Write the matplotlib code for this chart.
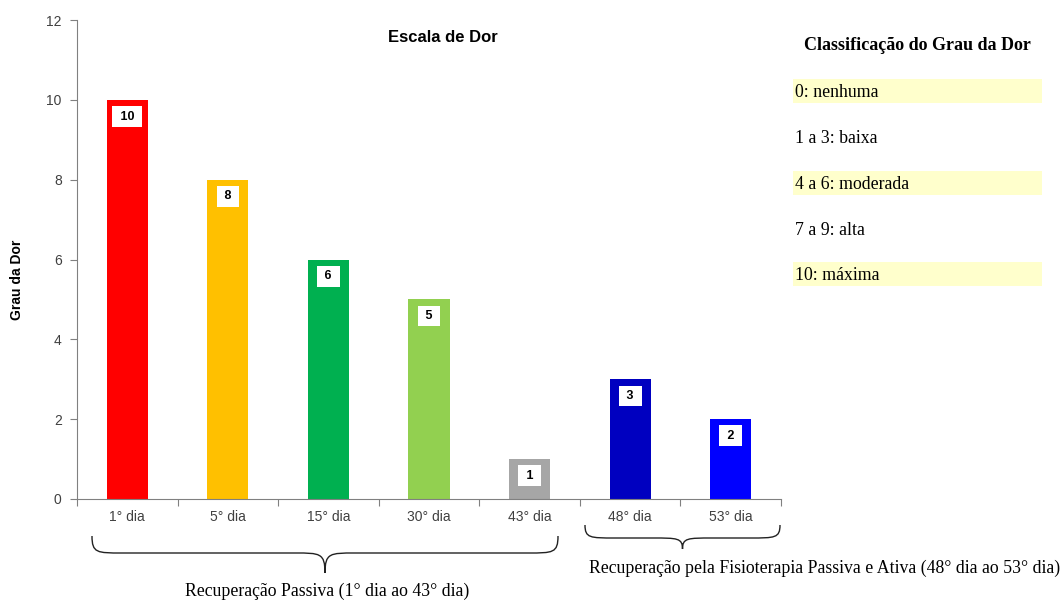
import matplotlib
matplotlib.use("Agg")
import matplotlib.pyplot as plt
from matplotlib.path import Path
from matplotlib.patches import PathPatch, Rectangle

categories = ["1° dia", "5° dia", "15° dia", "30° dia", "43° dia", "48° dia", "53° dia"]
values = [10, 8, 6, 5, 1, 3, 2]
colors = ["#FF0000", "#FFC000", "#00B050", "#92D050", "#A6A6A6", "#0000C0", "#0000FF"]
title = "Escala de Dor"
ylabel = "Grau da Dor"
yticks = [0, 2, 4, 6, 8, 10, 12]
group_labels = ["Recuperação Passiva (1° dia ao 43° dia)",
                "Recuperação pela Fisioterapia Passiva e Ativa (48° dia ao 53° dia)"]
legend_title = "Classificação do Grau da Dor"
legend_items = ["0: nenhuma", "1 a 3: baixa", "4 a 6: moderada", "7 a 9: alta", "10: máxima"]
legend_shaded = [True, False, True, False, True]

W, H = 1062, 600
fig = plt.figure(figsize=(W / 100, H / 100), dpi=100)
ax = fig.add_axes([77 / W, 1 - 499 / H, (781 - 77) / W, (499 - 20) / H])

x = list(range(len(categories)))
ax.bar(x, values, width=0.41, color=colors, zorder=2)
ax.set_xlim(-0.5, len(categories) - 0.5)
ax.set_ylim(0, 12)
ax.set_yticks(yticks)
ax.set_yticklabels([str(t) for t in yticks], fontsize=10, family="Liberation Sans", color="#404040")
ax.set_xticks([i - 0.5 for i in range(len(categories) + 1)], minor=False)
ax.set_xticklabels([""] * (len(categories) + 1))
ax.set_xticks(x, minor=True)
ax.set_xticklabels(categories, minor=True, fontsize=10, family="Liberation Sans", color="#404040")
ax.tick_params(axis="x", which="minor", length=0, pad=8)
ax.tick_params(axis="x", which="major", length=5, color="#808080")
ax.tick_params(axis="y", length=5, color="#808080", pad=6)
for s in ["top", "right"]:
    ax.spines[s].set_visible(False)
for s in ["left", "bottom"]:
    ax.spines[s].set_color("#808080")

for xi, v in zip(x, values):
    ax.annotate(f" {v} ", (xi, v), xytext=(0, -12), textcoords="offset points",
                ha="center", va="center", fontsize=9, fontweight="bold",
                family="Liberation Sans", color="black",
                bbox=dict(boxstyle="square,pad=0.35", fc="white", ec="none"))

fig.text(443 / W, 1 - 38 / H, title, ha="center", va="center", fontsize=12,
         fontweight="bold", family="Liberation Sans")
fig.text(17 / W, 1 - 280 / H, ylabel, ha="center", va="center", rotation=90,
         fontsize=10, fontweight="bold", family="Liberation Sans")


def brace(x0, x1, ytop, ymid, ybot):
    xc = (x0 + x1) / 2
    r = min(30, (xc - x0) / 3)

    def P(px, py):
        return (px / W, 1 - py / H)

    verts = [P(x0, ytop),
             P(x0, ymid), P(x0 + 5, ymid), P(x0 + r, ymid),
             P(xc - r, ymid),
             P(xc - 5, ymid), P(xc, ymid), P(xc, ybot),
             P(xc, ymid), P(xc + 5, ymid), P(xc + r, ymid),
             P(x1 - r, ymid),
             P(x1 - 5, ymid), P(x1, ymid), P(x1, ytop)]
    codes = [Path.MOVETO,
             Path.CURVE4, Path.CURVE4, Path.CURVE4,
             Path.LINETO,
             Path.CURVE4, Path.CURVE4, Path.CURVE4,
             Path.CURVE4, Path.CURVE4, Path.CURVE4,
             Path.LINETO,
             Path.CURVE4, Path.CURVE4, Path.CURVE4]
    fig.add_artist(PathPatch(Path(verts, codes), transform=fig.transFigure,
                             fc="none", ec="#222222", lw=1.0))


brace(92, 558, 536, 553, 573)
brace(585, 780, 525, 538, 549)
fig.text(327 / W, 1 - 591 / H, group_labels[0], ha="center", va="center",
         fontsize=12.8, family="Liberation Serif")
fig.text(825 / W, 1 - 568 / H, group_labels[1], ha="center", va="center",
         fontsize=12.8, family="Liberation Serif")

fig.text(917 / W, 1 - 45 / H, legend_title, ha="center", va="center", fontsize=13,
         fontweight="bold", family="Liberation Serif")
row_y = [91, 137, 183, 229, 274]
for yy, lab, sh in zip(row_y, legend_items, legend_shaded):
    if sh:
        fig.add_artist(Rectangle((793 / W, 1 - (yy + 12) / H), (1042 - 793) / W, 24 / H,
                                 transform=fig.transFigure, fc="#FFFFCC", ec="none"))
    fig.text(795 / W, 1 - (yy + 1.5) / H, lab, ha="left", va="center", fontsize=12.8,
             family="Liberation Serif")

fig.savefig("out.png", dpi=100)
